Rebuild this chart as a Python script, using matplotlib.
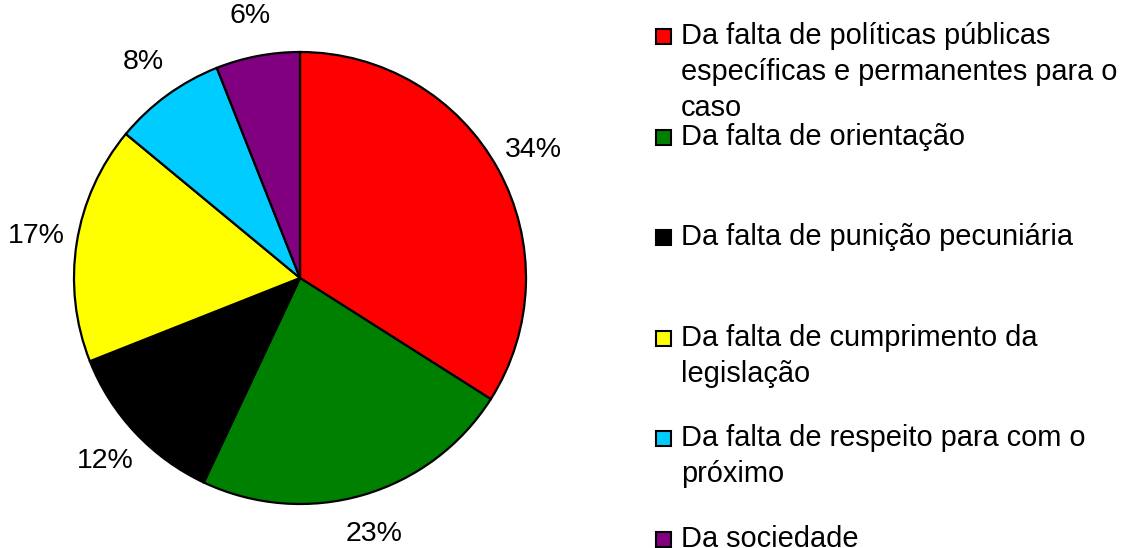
import matplotlib
matplotlib.use("Agg")
import matplotlib.pyplot as plt
from matplotlib.patches import Rectangle

categories = [
    "Da falta de políticas públicas\nespecíficas e permanentes para o\ncaso",
    "Da falta de orientação",
    "Da falta de punição pecuniária",
    "Da falta de cumprimento da\nlegislação",
    "Da falta de respeito para com o\npróximo",
    "Da sociedade",
]
values = [34, 23, 12, 17, 8, 6]
colors = ["#FF0000", "#008000", "#000000", "#FFFF00", "#00CCFF", "#800080"]

plt.rcParams["font.family"] = ["Liberation Sans", "DejaVu Sans"]

W, H = 1129, 548
fig = plt.figure(figsize=(W / 100, H / 100), dpi=100)

cx, cy, r = 300, 278, 226
ax = fig.add_axes([(cx - r) / W, (H - cy - r) / H, 2 * r / W, 2 * r / H])
wedges, texts, autotexts = ax.pie(
    values, colors=colors, startangle=90, counterclock=False,
    autopct="%.0f%%", pctdistance=1.18, radius=1,
    wedgeprops=dict(edgecolor="black", linewidth=1.6),
    textprops=dict(fontsize=20.5, color="black"),
)
ax.set_xlim(-1, 1)
ax.set_ylim(-1, 1)
ax.set_aspect("equal")
ax.axis("off")

fs = 20.9
y0 = 36.7
step = 100.5
sq = 15
for i, (lab, col) in enumerate(zip(categories, colors)):
    yc = y0 + i * step
    fig.patches.append(Rectangle(((656) / W, (H - yc - sq / 2) / H), sq / W, sq / H,
                                 facecolor=col, edgecolor="black", linewidth=1.5,
                                 transform=fig.transFigure, figure=fig))
    for j, line in enumerate(lab.split("\n")):
        yb = yc + 7.5 + j * 36
        fig.text(681 / W, (H - yb) / H, line, fontsize=fs, va="baseline", ha="left")

fig.savefig("out.png", dpi=100)
